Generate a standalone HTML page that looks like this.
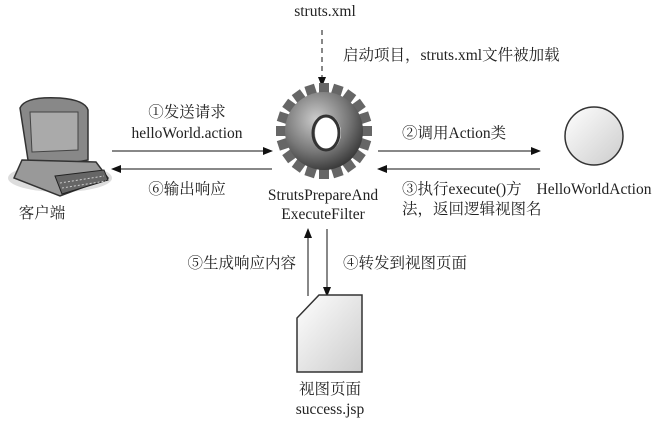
<!DOCTYPE html>
<html><head><meta charset="utf-8"><style>
body{margin:0;background:#fff}
svg text{font-family:"Liberation Serif","Noto Serif CJK SC",serif;font-size:15.5px;fill:#222}
</style></head><body>
<svg width="668" height="428" viewBox="0 0 668 428" xmlns="http://www.w3.org/2000/svg">
<defs>
<marker id="a" markerWidth="10" markerHeight="8" refX="9" refY="4" orient="auto" markerUnits="userSpaceOnUse"><path d="M0,0 L10,4 L0,8 z" fill="#111"/></marker>
<radialGradient id="g" cx="40%" cy="35%" r="70%"><stop offset="0" stop-color="#ccc"/><stop offset="0.6" stop-color="#777"/><stop offset="1" stop-color="#333"/></radialGradient>
<linearGradient id="c" x1="0" y1="0" x2="1" y2="1"><stop offset="0" stop-color="#fff"/><stop offset="1" stop-color="#ccc"/></linearGradient>
</defs>
<text x="325" y="16" text-anchor="middle">struts.xml</text>
<line x1="322" y1="30" x2="322" y2="86" stroke="#111" stroke-dasharray="5,4" marker-end="url(#a)"/>
<text x="343" y="60">启动项目，struts.xml文件被加载</text>
<g transform="translate(324,131)">
<g fill="#666">
<rect x="-5" y="-48" width="10" height="12" transform="rotate(0)"/>
<rect x="-5" y="-48" width="10" height="12" transform="rotate(18)"/>
<rect x="-5" y="-48" width="10" height="12" transform="rotate(36)"/>
<rect x="-5" y="-48" width="10" height="12" transform="rotate(54)"/>
<rect x="-5" y="-48" width="10" height="12" transform="rotate(72)"/>
<rect x="-5" y="-48" width="10" height="12" transform="rotate(90)"/>
<rect x="-5" y="-48" width="10" height="12" transform="rotate(108)"/>
<rect x="-5" y="-48" width="10" height="12" transform="rotate(126)"/>
<rect x="-5" y="-48" width="10" height="12" transform="rotate(144)"/>
<rect x="-5" y="-48" width="10" height="12" transform="rotate(162)"/>
<rect x="-5" y="-48" width="10" height="12" transform="rotate(180)"/>
<rect x="-5" y="-48" width="10" height="12" transform="rotate(198)"/>
<rect x="-5" y="-48" width="10" height="12" transform="rotate(216)"/>
<rect x="-5" y="-48" width="10" height="12" transform="rotate(234)"/>
<rect x="-5" y="-48" width="10" height="12" transform="rotate(252)"/>
<rect x="-5" y="-48" width="10" height="12" transform="rotate(270)"/>
<rect x="-5" y="-48" width="10" height="12" transform="rotate(288)"/>
<rect x="-5" y="-48" width="10" height="12" transform="rotate(306)"/>
<rect x="-5" y="-48" width="10" height="12" transform="rotate(324)"/>
<rect x="-5" y="-48" width="10" height="12" transform="rotate(342)"/>
</g>
<circle r="39" fill="url(#g)"/>
<ellipse cx="4" cy="2" rx="13" ry="17" fill="#fff"/>
<ellipse cx="2" cy="2" rx="13" ry="17" fill="none" stroke="#333" stroke-width="3"/>
</g>
<g>
<ellipse cx="60" cy="178" rx="52" ry="14" fill="#ddd"/>
<path d="M20,108 Q25,96 60,98 Q85,100 88,110 L88,160 Q60,166 28,160 Z" fill="#888" stroke="#333" stroke-width="1.5"/>
<path d="M30,112 L78,112 L78,150 L32,152 Z" fill="#aaa" stroke="#444"/>
<path d="M22,160 L96,162 L108,178 L60,196 L14,178 Z" fill="#999" stroke="#333" stroke-width="1.5"/>
<path d="M55,176 L104,170 L108,180 L62,194 Z" fill="#666" stroke="#222"/>
<path d="M60,183 L104,176 M62,188 L106,181" stroke="#ccc" stroke-dasharray="2,2"/>
</g>
<text x="42" y="218" text-anchor="middle">客户端</text>
<text x="187" y="117" text-anchor="middle">①发送请求</text>
<text x="187" y="138" text-anchor="middle">helloWorld.action</text>
<line x1="112" y1="151" x2="272" y2="151" stroke="#111" marker-end="url(#a)"/>
<line x1="272" y1="169" x2="112" y2="169" stroke="#111" marker-end="url(#a)"/>
<text x="187" y="194" text-anchor="middle">⑥输出响应</text>
<text x="323" y="200" text-anchor="middle">StrutsPrepareAnd</text>
<text x="323" y="219" text-anchor="middle">ExecuteFilter</text>
<text x="402" y="138">②调用Action类</text>
<line x1="378" y1="151" x2="540" y2="151" stroke="#111" marker-end="url(#a)"/>
<line x1="540" y1="169" x2="378" y2="169" stroke="#111" marker-end="url(#a)"/>
<text x="402" y="194">③执行execute()方</text>
<text x="402" y="214">法，返回逻辑视图名</text>
<circle cx="594" cy="136" r="29" fill="url(#c)" stroke="#333" stroke-width="1.5"/>
<text x="594" y="194" text-anchor="middle">HelloWorldAction</text>
<line x1="308" y1="296" x2="308" y2="229" stroke="#111" marker-end="url(#a)"/>
<line x1="327" y1="229" x2="327" y2="296" stroke="#111" marker-end="url(#a)"/>
<text x="296" y="268" text-anchor="end">⑤生成响应内容</text>
<text x="343" y="268">④转发到视图页面</text>
<path d="M319,295 L362,295 L362,372 L297,372 L297,318 Z" fill="url(#c)" stroke="#333" stroke-width="1.5"/>
<text x="330" y="394" text-anchor="middle">视图页面</text>
<text x="330" y="414" text-anchor="middle">success.jsp</text>
</svg>
</body></html>
